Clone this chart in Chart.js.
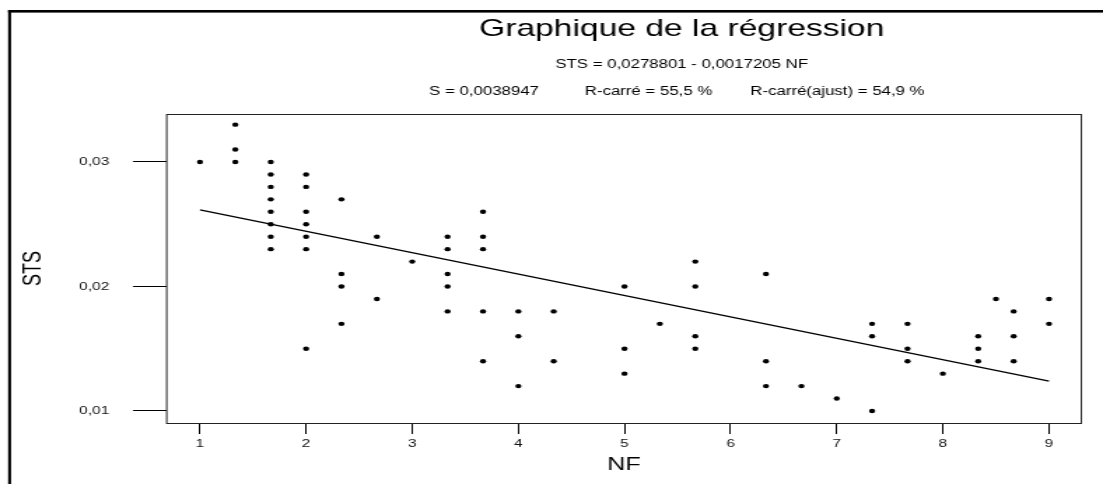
<!DOCTYPE html>
<html>
<head>
<meta charset="utf-8">
<script src="https://cdn.jsdelivr.net/npm/chart.js@4.4.0/dist/chart.umd.min.js"></script>
<style>
  html, body { margin: 0; padding: 0; background: #fff; }
  #myChart { display: block; }
</style>
</head>
<body>
<!-- le canvas est dessiné étroit (788) puis étiré en largeur -->
<canvas id="myChart" width="788" height="484" style="width:1103px;height:484px"></canvas>
<script>
// Observations : NF (moyenne) et STS
const nf = [
    1,
    1.333, 1.333, 1.333,
    1.667, 1.667, 1.667, 1.667, 1.667, 1.667, 1.667, 1.667,
    2, 2, 2, 2, 2, 2, 2,
    2.333, 2.333, 2.333, 2.333,
    2.667, 2.667,
    3,
    3.333, 3.333, 3.333, 3.333, 3.333,
    3.667, 3.667, 3.667, 3.667, 3.667,
    4, 4, 4,
    4.333, 4.333,
    5, 5, 5,
    5.333,
    5.667, 5.667, 5.667, 5.667,
    6.333, 6.333, 6.333,
    6.667,
    7,
    7.333, 7.333, 7.333,
    7.667, 7.667, 7.667,
    8,
    8.333, 8.333, 8.333,
    8.5,
    8.667, 8.667, 8.667,
    9, 9
];
const sts = [
    0.030,
    0.033, 0.031, 0.030,
    0.030, 0.029, 0.028, 0.027, 0.026, 0.025, 0.024, 0.023,
    0.029, 0.028, 0.026, 0.025, 0.024, 0.023, 0.015,
    0.027, 0.021, 0.020, 0.017,
    0.024, 0.019,
    0.022,
    0.024, 0.023, 0.021, 0.020, 0.018,
    0.026, 0.024, 0.023, 0.018, 0.014,
    0.018, 0.016, 0.012,
    0.018, 0.014,
    0.020, 0.015, 0.013,
    0.017,
    0.022, 0.020, 0.016, 0.015,
    0.021, 0.014, 0.012,
    0.012,
    0.011,
    0.017, 0.016, 0.010,
    0.017, 0.015, 0.014,
    0.013,
    0.016, 0.015, 0.014,
    0.019,
    0.018, 0.016, 0.014,
    0.019, 0.017
];

// Droite ajustée
const intercept = 0.0278801;
const slope = -0.0017205;
const fitX = [1, 9];

const xTicks = [1, 2, 3, 4, 5, 6, 7, 8, 9];
const yTicks = [0.01, 0.02, 0.03];
const yTickLabels = ['0,01', '0,02', '0,03'];

const titre = 'Graphique de la régression';
const virgule = v => String(v).replace('.', ',');
const equation = 'STS = ' + virgule(intercept) + ' - ' + virgule(-slope) + ' NF';
const stats = ['S = 0,0038947', 'R-carré = 55,5 %', 'R-carré(ajust) = 54,9 %'];

Chart.defaults.font.family = '"Liberation Sans", Arial, sans-serif';

// cadre de la page, cadre du graphique et en-tête
const cadre = {
    id: 'cadre',
    afterDraw(c) {
        const ctx = c.ctx, a = c.chartArea;
        ctx.save();
        ctx.fillStyle = '#000';
        ctx.fillRect(5.8, 10, c.width, 2.6);
        ctx.fillRect(5.8, 10, 2.1, c.height);

        ctx.strokeStyle = '#222';
        ctx.lineWidth = 1;
        ctx.strokeRect(a.left + 0.5, a.top + 0.5, a.right - a.left - 1, a.bottom - a.top);

        ctx.fillStyle = '#000';
        ctx.textAlign = 'center';
        ctx.textBaseline = 'alphabetic';
        ctx.font = '24px "Liberation Sans"';
        ctx.fillText(titre, 487, 36);
        ctx.font = '12px "Liberation Sans"';
        ctx.fillText(equation, 487, 68);
        const sx = [345.8, 463.3, 598.3];
        stats.forEach((t, i) => ctx.fillText(t, sx[i], 95));
        ctx.restore();
    }
};

var ctx = document.getElementById('myChart').getContext('2d');
var chart = new Chart(ctx, {
    type: 'scatter',
    data: {
        datasets: [
            {
                label: 'STS',
                data: nf.map((x, i) => ({ x: x, y: sts[i] })),
                pointRadius: 2.2,
                pointBackgroundColor: '#000',
                pointBorderWidth: 0
            },
            {
                type: 'line',
                label: 'ajustement',
                data: fitX.map(x => ({ x: x, y: intercept + slope * x })),
                borderColor: '#000',
                borderWidth: 1.4,
                pointRadius: 0,
                fill: false
            }
        ]
    },
    options: {
        responsive: false,
        animation: false,
        layout: { padding: { top: 114, right: 15, left: 0, bottom: 0 } },
        plugins: {
            legend: { display: false },
            tooltip: { enabled: false }
        },
        scales: {
            x: {
                type: 'linear',
                min: 0.68,
                max: 9.311,
                afterBuildTicks: s => { s.ticks = xTicks.map(v => ({ value: v })); },
                afterFit: s => { s.height = 61; },
                ticks: {
                    font: { size: 11 },
                    color: '#111',
                    padding: 3,
                    maxRotation: 0,
                    autoSkip: false,
                    callback: v => String(v)
                },
                grid: {
                    drawOnChartArea: false,
                    drawTicks: true,
                    tickLength: 11,
                    tickColor: '#000',
                    tickWidth: 1
                },
                border: { display: false },
                title: {
                    display: true,
                    text: 'NF',
                    font: { size: 18 },
                    color: '#000',
                    padding: { top: 0, bottom: 8 }
                }
            },
            y: {
                min: 0.009036,
                max: 0.033855,
                afterBuildTicks: s => { s.ticks = yTicks.map(v => ({ value: v })); },
                afterFit: s => { s.width = 118.6; },
                ticks: {
                    font: { size: 11 },
                    color: '#111',
                    padding: 17,
                    autoSkip: false,
                    callback: v => yTickLabels[yTicks.indexOf(v)]
                },
                grid: {
                    drawOnChartArea: false,
                    drawTicks: true,
                    tickLength: 23.6,
                    tickColor: '#000',
                    tickWidth: 1
                },
                border: { display: false },
                title: {
                    display: true,
                    text: 'STS',
                    font: { size: 18 },
                    color: '#000',
                    padding: { top: 12.8, bottom: 0 }
                }
            }
        }
    },
    plugins: [cadre]
});
</script>
</body>
</html>
